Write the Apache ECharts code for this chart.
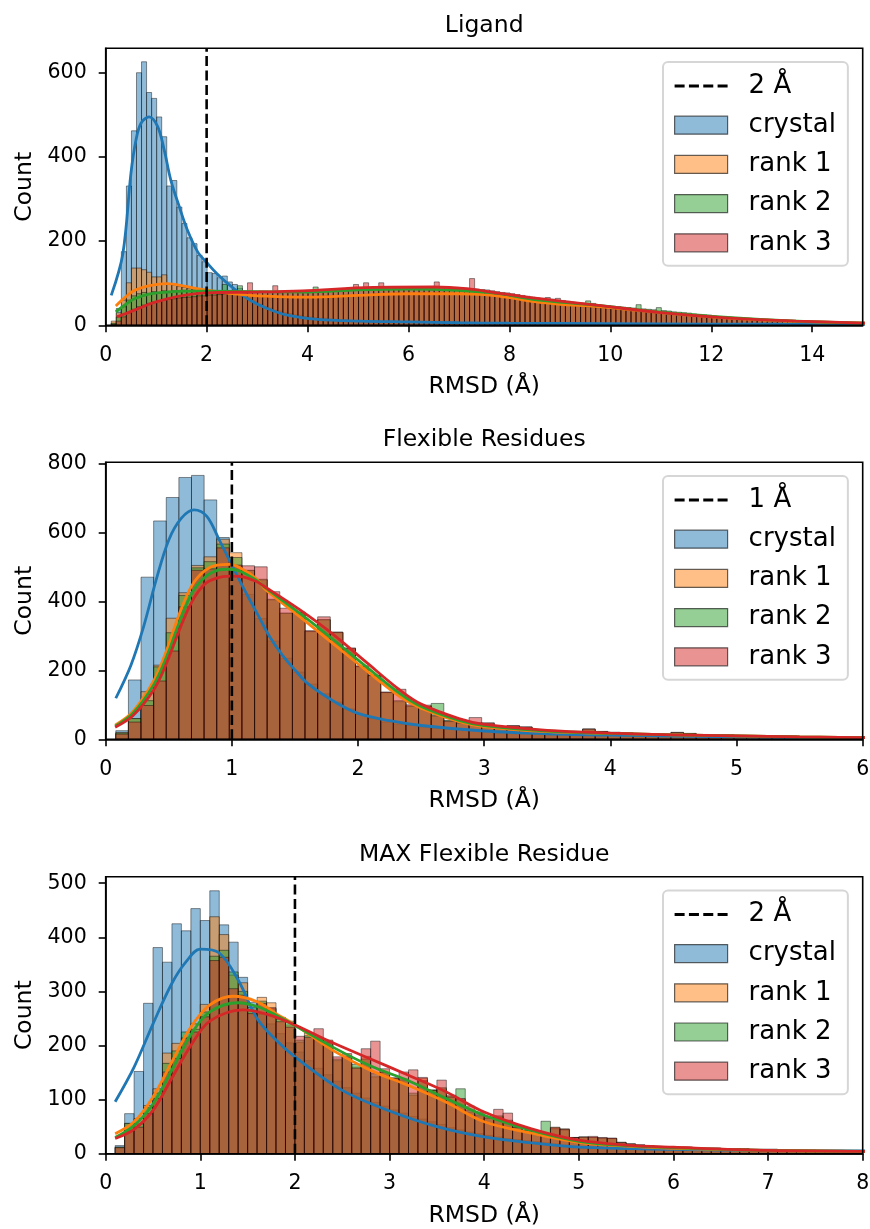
<!DOCTYPE html>
<html>
<head>
<meta charset="utf-8">
<title>RMSD histograms</title>
<script src="https://cdn.jsdelivr.net/npm/echarts@6/dist/echarts.min.js"></script>
<style>
  html, body { margin: 0; padding: 0; background: #fff; }
  #chart { width: 870px; height: 1229px; }
</style>
</head>
<body>
<div id="chart"></div>
<script>
const hues = ['crystal', 'rank 1', 'rank 2', 'rank 3']
const lineColors = ['#1f77b4', '#ff7f0e', '#2ca02c', '#d62728']
const fillColors = ['rgba(31,119,180,0.5)', 'rgba(255,127,14,0.5)', 'rgba(44,160,44,0.5)', 'rgba(214,39,40,0.5)']

// ---------- Ligand (bins of 0.1 starting at 0.11)
const ligandXTicks = [0, 2, 4, 6, 8, 10, 12, 14]
const ligandYTicks = [0, 200, 400, 600]
const ligandCrystal = [
  5, 40, 175, 331, 462, 600, 626, 553, 539, 495,
  448, 331, 344, 281, 242, 208, 194, 166, 151, 125,
  123, 113, 117, 103, 97, 88, 78, 65, 58, 50,
  45, 41, 36, 34, 30, 28, 25, 24, 21, 20,
  18, 17, 17, 15, 14, 13, 13, 12, 11, 11,
  10, 9, 10, 9, 8, 9, 8, 8, 7, 8,
  7, 7, 6, 7, 6, 6, 5, 6, 5, 5,
  5, 5, 4, 5, 4, 5, 4, 4, 4, 4,
  4, 3, 4, 3, 4, 3, 3, 4, 3, 3,
  3, 3, 3, 2, 3, 3, 2, 3, 2, 3,
  2, 3, 2, 2, 2, 3, 2, 2, 2, 2,
  2, 2, 2, 1, 2, 2, 1, 2, 2, 1,
  2, 1, 1, 2, 1, 1, 2, 1, 1, 1,
  1, 1, 1, 1, 1, 1, 1, 1, 1, 1,
  1, 1, 1, 1, 1, 1, 1, 1, 1
]
const ligandRank1 = [
  10, 30, 60, 101, 136, 136, 132, 126, 115, 115,
  120, 99, 96, 92, 90, 87, 86, 83, 82, 80,
  81, 78, 76, 75, 74, 72, 70, 71, 68, 69,
  67, 68, 66, 67, 65, 68, 67, 66, 69, 67,
  69, 68, 70, 69, 71, 70, 72, 71, 73, 72,
  74, 73, 75, 74, 76, 75, 77, 76, 75, 77,
  76, 78, 77, 76, 78, 77, 76, 77, 75, 76,
  75, 74, 74, 73, 72, 71, 70, 68, 67, 65,
  63, 61, 59, 57, 55, 54, 52, 50, 49, 48,
  47, 46, 45, 44, 43, 42, 41, 40, 39, 38,
  37, 36, 35, 34, 33, 32, 31, 30, 29, 28,
  27, 26, 25, 24, 23, 22, 21, 20, 19, 19,
  18, 17, 16, 15, 15, 14, 13, 13, 12, 12,
  11, 11, 10, 10, 9, 9, 8, 8, 8, 7,
  7, 6, 6, 6, 5, 5, 5, 4, 4
]
const ligandRank2 = [
  5, 20, 44, 60, 70, 75, 78, 76, 80, 78,
  82, 80, 82, 80, 83, 81, 82, 80, 83, 81,
  82, 80, 97, 80, 82, 94, 80, 79, 78, 80,
  79, 78, 80, 77, 79, 78, 80, 79, 78, 80,
  91, 80, 82, 81, 83, 82, 84, 83, 85, 84,
  85, 84, 86, 85, 86, 87, 85, 86, 87, 86,
  85, 86, 85, 84, 85, 84, 83, 84, 83, 82,
  82, 81, 80, 79, 78, 77, 76, 75, 73, 72,
  70, 68, 66, 64, 62, 61, 59, 57, 56, 55,
  54, 53, 52, 51, 58, 52, 48, 47, 46, 45,
  44, 43, 42, 41, 49, 39, 38, 37, 42, 35,
  34, 32, 31, 30, 29, 27, 26, 25, 24, 22,
  21, 20, 19, 18, 17, 16, 15, 14, 13, 13,
  12, 11, 11, 10, 10, 9, 9, 8, 8, 7,
  7, 6, 6, 6, 5, 5, 5, 4, 4
]
const ligandRank3 = [
  2, 10, 20, 30, 38, 44, 48, 52, 55, 58,
  60, 62, 63, 65, 66, 67, 68, 70, 70, 72,
  72, 73, 74, 75, 76, 76, 77, 101, 78, 78,
  79, 80, 94, 80, 81, 80, 82, 81, 82, 83,
  82, 84, 83, 85, 84, 86, 87, 86, 97, 88,
  101, 89, 90, 101, 90, 91, 90, 92, 91, 90,
  91, 92, 91, 90, 103, 91, 90, 89, 90, 88,
  88, 111, 86, 85, 84, 82, 80, 78, 77, 75,
  73, 71, 69, 67, 65, 64, 66, 62, 64, 59,
  57, 55, 54, 52, 51, 49, 48, 47, 46, 45,
  43, 42, 41, 39, 38, 37, 35, 34, 33, 32,
  31, 29, 28, 27, 26, 24, 23, 22, 21, 20,
  19, 18, 17, 16, 15, 14, 14, 13, 12, 12,
  11, 11, 10, 10, 9, 9, 8, 8, 7, 7,
  7, 6, 6, 5, 5, 5, 4, 4, 4
]
const ligandKdeCrystal = [[0.11, 71], [0.34, 170], [0.5, 361], [0.6, 440], [0.7, 480], [0.86, 495], [1.03, 472], [1.16, 416], [1.29, 345], [1.46, 281], [1.62, 226], [1.82, 175], [2.01, 148], [2.21, 122], [2.54, 87], [2.87, 59], [3.2, 40], [3.6, 24], [4.2, 14], [5.05, 10], [6, 8], [7, 6], [8, 5], [10, 4], [12, 3], [15.5, 2]]
const ligandKdeRank1 = [[0.2, 46], [0.4, 68], [0.57, 83], [0.9, 95], [1.22, 99], [1.55, 93], [1.88, 86], [2.5, 75], [3, 70], [4, 67], [5, 71], [6, 75], [7, 75], [7.5, 73], [8, 66], [8.5, 56], [9, 50], [9.7, 45], [10.5, 36], [11, 30], [12, 20], [13, 13], [14, 8], [15.5, 4]]
const ligandKdeRank2 = [[0.2, 32], [0.4, 50], [0.57, 63], [0.9, 75], [1.22, 79], [1.55, 81], [2.01, 81], [3, 80], [4, 79], [5, 84], [6, 86], [7, 83], [7.8, 75], [8.5, 61], [9.7, 48], [11, 31], [12.4, 18], [13.7, 10], [15.5, 4]]
const ligandKdeRank3 = [[0.22, 20], [0.57, 36], [0.9, 52], [1.22, 63], [1.55, 71], [2.01, 77], [3, 79], [3.9, 82], [5.3, 90], [6.5, 91], [7.15, 87], [7.8, 76], [8.47, 65], [9.72, 48], [11, 30], [12.36, 17], [13.68, 10], [15.5, 4]]

// ---------- Flexible Residues (bins of 0.1 starting at 0.08)
const flexXTicks = [0, 1, 2, 3, 4, 5, 6]
const flexYTicks = [0, 200, 400, 600, 800]
const flexCrystal = [
  25, 172, 470, 633, 701, 759, 765, 694, 585, 500,
  420, 350, 285, 235, 195, 160, 132, 108, 88, 72,
  60, 50, 44, 40, 36, 32, 30, 28, 26, 24,
  23, 21, 20, 19, 18, 17, 16, 15, 14, 13,
  12, 12, 11, 10, 10, 9, 9, 8, 8, 7,
  7, 7, 6, 6, 6, 5, 5, 5, 4, 4
]
const flexRank1 = [
  20, 60, 138, 215, 351, 425, 504, 529, 580, 541,
  489, 462, 404, 365, 367, 312, 346, 309, 262, 210,
  184, 135, 109, 95, 99, 66, 51, 46, 45, 46,
  32, 38, 35, 22, 22, 20, 20, 28, 22, 20,
  19, 15, 12, 12, 18, 16, 14, 12, 13, 11,
  10, 11, 9, 9, 8, 8, 7, 7, 6, 6
]
const flexRank2 = [
  18, 60, 112, 210, 309, 417, 497, 515, 566, 527,
  490, 464, 406, 366, 367, 313, 347, 310, 263, 211,
  185, 136, 112, 97, 95, 104, 55, 50, 48, 44,
  35, 38, 35, 24, 22, 21, 20, 30, 23, 20,
  18, 15, 13, 12, 20, 17, 13, 12, 12, 11,
  10, 10, 9, 9, 8, 8, 7, 7, 6, 6
]
const flexRank3 = [
  15, 50, 98, 169, 256, 384, 490, 494, 555, 505,
  503, 500, 428, 380, 369, 315, 355, 311, 265, 213,
  186, 137, 145, 100, 96, 70, 53, 48, 63, 48,
  33, 40, 36, 25, 22, 20, 21, 30, 22, 20,
  18, 16, 12, 12, 20, 17, 14, 12, 12, 11,
  10, 10, 9, 9, 8, 8, 7, 7, 6, 6
]
const flexKdeCrystal = [[0.08, 119], [0.2, 215], [0.3, 326], [0.4, 462], [0.5, 578], [0.6, 641], [0.7, 665], [0.8, 647], [0.9, 578], [1.0, 505], [1.1, 433], [1.2, 365], [1.3, 297], [1.4, 244], [1.5, 201], [1.6, 162], [1.8, 112], [2.0, 75], [2.25, 54], [2.5, 40], [3, 24], [3.5, 16], [4, 12], [5, 7], [6.3, 4]]
const flexKdeRank1 = [[0.075, 41], [0.215, 80], [0.384, 172], [0.484, 259], [0.585, 365], [0.685, 447], [0.786, 489], [0.884, 505], [0.98, 507], [1.06, 498], [1.19, 467], [1.27, 433], [1.54, 355], [1.8, 278], [2.06, 201], [2.33, 124], [2.5, 90], [2.8, 51], [3.0, 37], [3.5, 22], [4, 17], [4.5, 13], [5, 10], [5.5, 7], [6.3, 4]]
const flexKdeRank2 = [[0.075, 38], [0.215, 75], [0.384, 160], [0.484, 240], [0.585, 340], [0.685, 425], [0.786, 470], [0.884, 490], [0.98, 493], [1.06, 488], [1.19, 462], [1.27, 438], [1.54, 365], [1.8, 290], [2.06, 212], [2.33, 133], [2.5, 95], [2.8, 55], [3.0, 40], [3.5, 24], [4, 17], [4.5, 13], [5, 10], [5.5, 7], [6.3, 4]]
const flexKdeRank3 = [[0.075, 35], [0.215, 68], [0.384, 145], [0.484, 222], [0.585, 318], [0.685, 400], [0.786, 450], [0.884, 468], [0.98, 473], [1.06, 472], [1.19, 458], [1.27, 440], [1.54, 375], [1.8, 305], [2.06, 225], [2.33, 143], [2.5, 102], [2.8, 60], [3.0, 43], [3.5, 26], [4, 18], [4.5, 13], [5, 10], [5.5, 7], [6.3, 4]]

// ---------- MAX Flexible Residue (bins of 0.1 starting at 0.10)
const maxXTicks = [0, 1, 2, 3, 4, 5, 6, 7, 8]
const maxYTicks = [0, 100, 200, 300, 400, 500]
const maxCrystal = [
  15, 74, 152, 278, 381, 354, 425, 412, 453, 431,
  486, 423, 391, 326, 280, 258, 240, 222, 205, 188,
  172, 158, 146, 134, 122, 112, 103, 95, 88, 81,
  75, 69, 64, 59, 54, 48, 44, 40, 37, 34,
  31, 28, 26, 24, 22, 20, 18, 16, 14, 13,
  12, 11, 11, 10, 10, 9, 9, 9, 8, 8,
  8, 7, 7, 7, 6, 6, 6, 6, 5, 5,
  5, 5, 5, 5, 4, 4, 4, 4, 4
]
const maxRank1 = [
  12, 56, 65, 89, 120, 186, 204, 215, 240, 276,
  438, 405, 330, 316, 265, 289, 279, 248, 238, 206,
  223, 212, 210, 172, 180, 160, 180, 142, 150, 139,
  135, 108, 139, 117, 120, 108, 100, 77, 70, 65,
  68, 60, 49, 43, 37, 36, 49, 46, 30, 30,
  30, 28, 28, 20, 18, 16, 14, 12, 12, 11,
  12, 11, 10, 10, 9, 9, 9, 8, 8, 8,
  7, 7, 7, 6, 6, 6, 6, 5, 5
]
const maxRank2 = [
  12, 56, 55, 85, 112, 167, 190, 225, 230, 262,
  365, 376, 336, 300, 270, 282, 268, 252, 245, 210,
  218, 215, 208, 175, 178, 165, 175, 148, 150, 140,
  138, 112, 135, 118, 122, 105, 120, 80, 72, 66,
  70, 62, 50, 44, 38, 60, 46, 44, 30, 31,
  30, 29, 28, 21, 18, 16, 14, 13, 12, 12,
  11, 11, 10, 10, 9, 9, 9, 8, 8, 8,
  7, 7, 7, 7, 6, 6, 6, 5, 5
]
const maxRank3 = [
  11, 42, 49, 74, 102, 151, 176, 213, 225, 253,
  357, 363, 305, 293, 259, 278, 270, 244, 234, 217,
  215, 231, 205, 179, 185, 158, 194, 208, 157, 140,
  151, 155, 141, 117, 136, 105, 102, 88, 77, 68,
  82, 75, 48, 42, 37, 37, 48, 45, 30, 31,
  32, 30, 29, 21, 18, 16, 14, 12, 12, 11,
  12, 11, 10, 10, 9, 9, 9, 8, 8, 8,
  7, 7, 7, 7, 6, 6, 6, 5, 5
]
const maxKdeCrystal = [[0.1, 96], [0.3, 160], [0.5, 240], [0.7, 315], [0.85, 355], [1.0, 378], [1.2, 371], [1.4, 321], [1.6, 250], [1.8, 210], [2.0, 179], [2.5, 117], [3.0, 79], [3.5, 50], [4.0, 31], [4.5, 20], [5.0, 12], [6, 8], [7, 6], [8.3, 5]]
const maxKdeRank1 = [[0.1, 37], [0.3, 59], [0.5, 105], [0.7, 170], [0.9, 234], [1.1, 275], [1.35, 291], [1.6, 281], [1.8, 259], [2.0, 238], [2.4, 191], [2.8, 154], [3.2, 126], [3.6, 95], [4.0, 59], [4.5, 38], [5.0, 21], [5.5, 14], [6.0, 10], [7, 6], [8.3, 4]]
const maxKdeRank2 = [[0.1, 30], [0.3, 52], [0.5, 92], [0.7, 155], [0.9, 220], [1.1, 262], [1.4, 279], [1.6, 272], [1.8, 256], [2.0, 237], [2.4, 197], [2.8, 162], [3.2, 135], [3.6, 102], [4.0, 71], [4.5, 43], [5.0, 23], [5.5, 15], [6.0, 11], [7, 6], [8.3, 4]]
const maxKdeRank3 = [[0.1, 28], [0.3, 45], [0.5, 80], [0.7, 140], [0.9, 200], [1.1, 245], [1.45, 266], [1.7, 258], [2.0, 238], [2.4, 205], [2.8, 175], [3.2, 145], [3.6, 114], [4.0, 77], [4.5, 46], [5.0, 25], [5.5, 16], [6.0, 12], [7, 6], [8.3, 4]]

const panels = [
  { title: 'Ligand', top: 48.3, xMax: 15, xInterval: 2, yMax: 658, yInterval: 200, xTicks: ligandXTicks, yTicks: ligandYTicks,
    binStart: 0.11, binWidth: 0.1, bins: [ligandCrystal, ligandRank1, ligandRank2, ligandRank3],
    kde: [ligandKdeCrystal, ligandKdeRank1, ligandKdeRank2, ligandKdeRank3], cutoff: 2, cutoffName: '2 Å' },
  { title: 'Flexible Residues', top: 462.3, xMax: 6, xInterval: 1, yMax: 803, yInterval: 200, xTicks: flexXTicks, yTicks: flexYTicks,
    binStart: 0.08, binWidth: 0.1, bins: [flexCrystal, flexRank1, flexRank2, flexRank3],
    kde: [flexKdeCrystal, flexKdeRank1, flexKdeRank2, flexKdeRank3], cutoff: 1, cutoffName: '1 Å' },
  { title: 'MAX Flexible Residue', top: 876.7, xMax: 8, xInterval: 1, yMax: 512, yInterval: 100, xTicks: maxXTicks, yTicks: maxYTicks,
    binStart: 0.1, binWidth: 0.1, bins: [maxCrystal, maxRank1, maxRank2, maxRank3],
    kde: [maxKdeCrystal, maxKdeRank1, maxKdeRank2, maxKdeRank3], cutoff: 2, cutoffName: '2 Å' }
]

const FONT = 'DejaVu Sans'
const GRID_LEFT = 105.7
const GRID_WIDTH = 757
const GRID_HEIGHT = 277
// four dashes, matplotlib '--' proportions
const DASH_ICON = 'path://M0,0H10.1V3H0Z M14.46,0H24.56V3H14.46Z M28.92,0H39.02V3H28.92Z M43.38,0H53.48V3H43.38Z'

function binData(start, width, counts) {
  return counts.map((c, i) => [start + i * width, start + (i + 1) * width, c])
}

function renderBin(params, api) {
  const top = api.coord([api.value(0), api.value(2)])
  const base = api.coord([api.value(1), 0])
  const cs = params.coordSys
  const shape = echarts.graphic.clipRectByRect(
    { x: top[0], y: top[1], width: base[0] - top[0], height: base[1] - top[1] },
    { x: cs.x, y: cs.y, width: cs.width, height: cs.height })
  if (!shape) return
  return {
    type: 'rect',
    shape: shape,
    style: { fill: api.visual('color'), stroke: 'rgba(0,0,0,0.55)', lineWidth: 0.8 }
  }
}

const option = {
  animation: false,
  backgroundColor: '#fff',
  textStyle: { fontFamily: FONT },
  title: [], grid: [], xAxis: [], yAxis: [], legend: [], series: []
}

panels.forEach((p, k) => {
  option.title.push({
    text: p.title, left: GRID_LEFT + GRID_WIDTH / 2, top: p.top - 34, textAlign: 'center', padding: 0,
    textStyle: { fontFamily: FONT, fontSize: 23.5, fontWeight: 'normal', color: '#000' }
  })
  option.grid.push({
    left: GRID_LEFT, top: p.top, width: GRID_WIDTH, height: GRID_HEIGHT,
    outerBoundsMode: 'none',
    show: true, borderColor: '#000', borderWidth: 1.6, backgroundColor: 'transparent', z: 6
  })
  option.xAxis.push({
    gridIndex: k, type: 'value', min: 0, max: p.xMax, interval: p.xInterval, z: 5,
    name: 'RMSD (Å)', nameLocation: 'middle', nameGap: 50, nameMoveOverlap: false,
    nameTextStyle: { fontFamily: FONT, fontSize: 23.5, color: '#000' },
    axisLine: { show: true, onZero: false, lineStyle: { color: '#000', width: 1.6 } },
    axisTick: { show: true, length: 7, lineStyle: { color: '#000', width: 1.6 }, customValues: p.xTicks },
    axisLabel: { fontFamily: FONT, fontSize: 20.5, color: '#000', margin: 19.5, showMaxLabel: p.xMax % p.xInterval === 0 },
    splitLine: { show: false }
  })
  option.yAxis.push({
    gridIndex: k, type: 'value', min: 0, max: p.yMax, interval: p.yInterval, z: 5,
    name: 'Count', nameLocation: 'middle', nameGap: 69, nameRotate: 90, nameMoveOverlap: false,
    nameTextStyle: { fontFamily: FONT, fontSize: 23.5, color: '#000' },
    axisLine: { show: true, onZero: false, lineStyle: { color: '#000', width: 1.6 } },
    axisTick: { show: true, length: 7, lineStyle: { color: '#000', width: 1.6 }, customValues: p.yTicks },
    axisLabel: { fontFamily: FONT, fontSize: 20.5, color: '#000', margin: 19, showMaxLabel: false },
    splitLine: { show: false }
  })

  p.bins.forEach((counts, h) => {
    option.series.push({
      type: 'custom', name: hues[h], xAxisIndex: k, yAxisIndex: k,
      renderItem: renderBin, itemStyle: { color: fillColors[h] },
      encode: { x: [0, 1], y: 2 },
      data: binData(p.binStart, p.binWidth, counts)
    })
  })
  p.kde.forEach((pts, h) => {
    option.series.push({
      type: 'line', name: hues[h] + ' kde', xAxisIndex: k, yAxisIndex: k,
      data: pts, smooth: 0.35, symbol: 'none', clip: true, z: 3,
      lineStyle: { color: lineColors[h], width: 2.8 }
    })
  })
  option.series.push({
    type: 'line', name: p.cutoffName, xAxisIndex: k, yAxisIndex: k,
    data: [[p.cutoff, 0], [p.cutoff, p.yMax]], symbol: 'none', clip: true, z: 4,
    itemStyle: { color: '#000' },
    lineStyle: { color: '#000', width: 2.6, type: [10, 4.4] }
  })

  option.legend.push({
    orient: 'vertical', left: 663, top: p.top + 13.7, z: 10,
    selectedMode: false,
    backgroundColor: '#fff', borderColor: '#d6d6d6', borderWidth: 2, borderRadius: 5,
    padding: [11, 12, 10, 11], itemGap: 13.2, itemWidth: 53, itemHeight: 18,
    textStyle: { fontFamily: FONT, fontSize: 26, color: '#000', padding: [0, 0, 0, 16] },
    data: [{ name: p.cutoffName, icon: DASH_ICON, itemStyle: { color: '#000', borderWidth: 0 } }].concat(hues.map((name, h) => ({
      name: name, icon: 'rect',
      itemStyle: { color: fillColors[h], borderColor: 'rgba(0,0,0,0.6)', borderWidth: 1.2 }
    })))
  })
})

const chart = echarts.init(document.getElementById('chart'))
chart.setOption(option)
</script>
</body>
</html>
